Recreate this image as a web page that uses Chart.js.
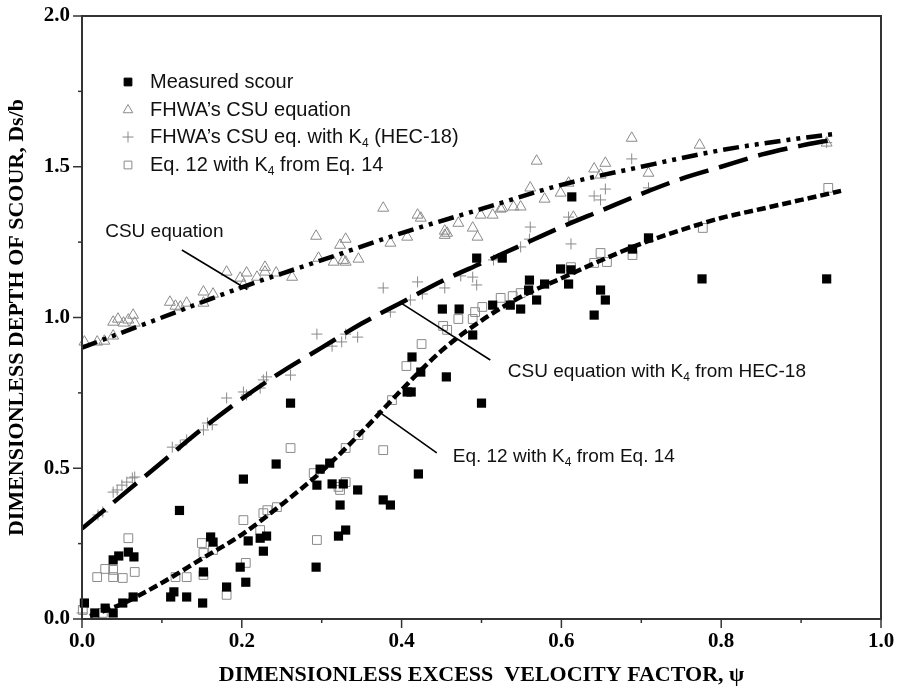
<!DOCTYPE html>
<html>
<head>
<meta charset="utf-8">
<script src="https://cdn.jsdelivr.net/npm/chart.js@4.4.1/dist/chart.umd.min.js"></script>
<style>
  html, body { margin: 0; padding: 0; background: #fff; }
  #wrap { width: 902px; height: 692px; }
</style>
</head>
<body>
<div id="wrap"><canvas id="c" width="902" height="692"></canvas></div>
<script>
// Measured dimensionless scour depth vs. excess velocity factor
const measuredScour = [
  [0.003,0.053],[0.016,0.020],[0.029,0.036],[0.039,0.020],[0.039,0.196],[0.046,0.209],
  [0.058,0.222],[0.065,0.206],[0.051,0.053],[0.064,0.073],[0.122,0.360],[0.111,0.073],
  [0.115,0.090],[0.131,0.073],[0.151,0.053],[0.152,0.156],[0.161,0.272],[0.164,0.255],
  [0.181,0.106],[0.198,0.172],[0.202,0.464],[0.205,0.122],[0.208,0.259],[0.223,0.268],
  [0.231,0.275],[0.227,0.225],[0.243,0.514],[0.261,0.716],[0.294,0.444],[0.298,0.497],
  [0.310,0.517],[0.313,0.448],[0.293,0.172],[0.323,0.378],[0.321,0.275],[0.327,0.448],
  [0.345,0.428],[0.330,0.295],[0.377,0.395],[0.386,0.378],[0.421,0.481],[0.413,0.869],
  [0.424,0.819],[0.456,0.803],[0.407,0.753],[0.412,0.753],[0.500,0.716],[0.451,1.028],
  [0.472,1.028],[0.489,0.942],[0.494,1.197],[0.526,1.197],[0.514,1.041],[0.536,1.041],
  [0.549,1.028],[0.560,1.124],[0.559,1.091],[0.569,1.058],[0.599,1.161],[0.612,1.158],
  [0.609,1.111],[0.579,1.111],[0.649,1.091],[0.655,1.058],[0.641,1.008],[0.689,1.227],
  [0.709,1.264],[0.776,1.128],[0.613,1.400],[0.932,1.128]
];

// FHWA's CSU equation predictions
const fhwaCsu = [
  [0.003,0.919],[0.019,0.919],[0.028,0.922],[0.039,0.939],[0.039,0.985],[0.045,0.995],
  [0.052,0.982],[0.058,0.992],[0.064,1.008],[0.066,0.982],[0.110,1.051],[0.117,1.038],
  [0.123,1.035],[0.131,1.048],[0.152,1.085],[0.164,1.078],[0.152,1.048],[0.181,1.151],
  [0.198,1.131],[0.206,1.148],[0.202,1.108],[0.219,1.134],[0.229,1.167],[0.229,1.151],
  [0.243,1.148],[0.263,1.134],[0.293,1.270],[0.296,1.197],[0.315,1.184],[0.323,1.240],
  [0.330,1.260],[0.327,1.190],[0.330,1.184],[0.346,1.194],[0.377,1.363],[0.386,1.247],
  [0.407,1.267],[0.420,1.340],[0.424,1.330],[0.454,1.287],[0.454,1.273],[0.457,1.280],
  [0.471,1.313],[0.489,1.297],[0.495,1.267],[0.499,1.340],[0.514,1.340],[0.526,1.363],
  [0.524,1.360],[0.540,1.367],[0.549,1.367],[0.561,1.430],[0.569,1.519],[0.579,1.393],
  [0.599,1.413],[0.609,1.446],[0.615,1.333],[0.641,1.493],[0.655,1.512],[0.649,1.473],
  [0.688,1.595],[0.709,1.479],[0.773,1.572],[0.932,1.579]
];

// FHWA's CSU equation with K4 (HEC-18)
const fhwaCsuK4 = [
  [0.000,0.020],[0.020,0.345],[0.026,0.355],[0.039,0.421],[0.044,0.428],[0.050,0.444],
  [0.056,0.454],[0.063,0.468],[0.066,0.471],[0.113,0.570],[0.123,0.577],[0.131,0.594],
  [0.152,0.627],[0.157,0.650],[0.163,0.644],[0.181,0.733],[0.202,0.753],[0.206,0.743],
  [0.223,0.766],[0.227,0.793],[0.231,0.803],[0.261,0.809],[0.294,0.945],[0.313,0.905],
  [0.325,0.919],[0.330,0.945],[0.345,0.935],[0.377,1.098],[0.386,1.018],[0.411,1.058],
  [0.420,1.118],[0.426,1.078],[0.454,1.098],[0.474,1.138],[0.489,1.134],[0.494,1.108],
  [0.515,1.191],[0.549,1.234],[0.561,1.300],[0.560,1.260],[0.609,1.333],[0.612,1.244],
  [0.641,1.403],[0.649,1.390],[0.655,1.426],[0.688,1.526],[0.709,1.430],[0.932,1.580]
];

// Eq. 12 with K4 from Eq. 14
const eq12K4 = [
  [0.001,0.030],[0.026,0.020],[0.019,0.139],[0.029,0.166],[0.039,0.139],[0.039,0.163],
  [0.051,0.136],[0.058,0.268],[0.066,0.156],[0.117,0.139],[0.131,0.139],[0.152,0.146],
  [0.150,0.252],[0.152,0.219],[0.164,0.229],[0.181,0.080],[0.202,0.328],[0.205,0.186],
  [0.223,0.295],[0.227,0.351],[0.232,0.361],[0.244,0.371],[0.261,0.567],[0.294,0.262],
  [0.290,0.484],[0.321,0.438],[0.323,0.428],[0.330,0.454],[0.330,0.567],[0.346,0.610],
  [0.377,0.560],[0.388,0.726],[0.406,0.839],[0.425,0.912],[0.452,0.972],[0.457,0.959],
  [0.471,0.995],[0.489,0.995],[0.492,1.018],[0.501,1.035],[0.524,1.065],[0.539,1.071],
  [0.549,1.081],[0.612,1.167],[0.641,1.181],[0.649,1.214],[0.657,1.184],[0.689,1.207],
  [0.777,1.297],[0.934,1.430]
];

// Fitted curves
const csuCurve = [
  [0.00,0.90],[0.10,1.00],[0.20,1.10],[0.30,1.19],[0.40,1.28],[0.50,1.36],
  [0.60,1.44],[0.70,1.50],[0.80,1.555],[0.90,1.595],[0.945,1.61]
];
const csuK4Curve = [
  [0.00,0.30],[0.05,0.41],[0.10,0.52],[0.15,0.63],[0.20,0.73],[0.25,0.82],[0.30,0.90],
  [0.35,0.98],[0.40,1.05],[0.45,1.12],[0.50,1.18],[0.55,1.24],[0.60,1.30],[0.65,1.355],
  [0.70,1.41],[0.75,1.46],[0.80,1.50],[0.85,1.54],[0.90,1.57],[0.94,1.59]
];
const eq12Curve = [
  [0.01,0.01],[0.05,0.05],[0.10,0.12],[0.15,0.20],[0.20,0.28],[0.25,0.38],[0.30,0.49],
  [0.35,0.62],[0.40,0.76],[0.45,0.89],[0.50,0.99],[0.55,1.07],[0.60,1.13],[0.65,1.19],
  [0.70,1.245],[0.75,1.29],[0.80,1.33],[0.85,1.36],[0.90,1.39],[0.95,1.42]
];

const xTickLabels = ['0.0','0.2','0.4','0.6','0.8','1.0'];
const yTickLabels = ['0.0','0.5','1.0','1.5','2.0'];

const legendItems = [
  { text: 'Measured scour', style: 'rect', fill: '#000', stroke: '#000' },
  { text: 'FHWA\u2019s CSU equation', style: 'triangle', fill: 'rgba(0,0,0,0)', stroke: '#8a8a8a' },
  { text: 'FHWA\u2019s CSU eq. with K|4| (HEC-18)', style: 'cross', fill: 'rgba(0,0,0,0)', stroke: '#8a8a8a' },
  { text: 'Eq. 12 with K|4| from Eq. 14', style: 'rect', fill: 'rgba(0,0,0,0)', stroke: '#8a8a8a' }
];

// Callout labels: text anchor and leader line, in data units
const callouts = [
  { text: 'CSU equation', at: [0.029, 1.284], from: [0.125, 1.224], to: [0.207, 1.093] },
  { text: 'CSU equation with K|4| from HEC-18', at: [0.533, 0.819], from: [0.398, 1.050], to: [0.511, 0.859] },
  { text: 'Eq. 12 with K|4| from Eq. 14', at: [0.464, 0.537], from: [0.370, 0.690], to: [0.444, 0.551] }
];

const toXY = arr => arr.map(p => ({ x: p[0], y: p[1] }));
const GRAY = '#8a8a8a';
const SANS = '"Liberation Sans", Arial, sans-serif';
const SERIF = '"Liberation Serif", "Times New Roman", serif';

// Draws text where |..| marks a subscript
function drawSubText(ctx, str, x, y, size) {
  const parts = str.split('|');
  let cx = x;
  parts.forEach((part, i) => {
    const sub = i % 2 === 1;
    ctx.font = (sub ? Math.round(size * 0.62) : size) + 'px ' + SANS;
    ctx.fillText(part, cx, sub ? y + size * 0.32 : y);
    cx += ctx.measureText(part).width;
  });
}

const decorPlugin = {
  id: 'decor',
  afterDraw(chart) {
    const { ctx, chartArea: a, scales } = chart;
    const xs = scales.x, ys = scales.y;
    ctx.save();
    // frame
    ctx.strokeStyle = '#333';
    ctx.lineWidth = 2;
    ctx.strokeRect(a.left, a.top, a.right - a.left, a.bottom - a.top);
    // x ticks
    ctx.lineWidth = 1.5;
    for (let i = 0; i <= 10; i++) {
      const px = xs.getPixelForValue(i / 10);
      const len = i % 2 === 0 ? 9 : 4;
      ctx.beginPath();
      ctx.moveTo(px, a.bottom);
      ctx.lineTo(px, a.bottom + len);
      ctx.stroke();
    }
    // y ticks
    for (let i = 0; i <= 8; i++) {
      const py = ys.getPixelForValue(i / 4);
      const len = i % 2 === 0 ? 9 : 4;
      ctx.beginPath();
      ctx.moveTo(a.left, py);
      ctx.lineTo(a.left - len, py);
      ctx.stroke();
    }
    // legend
    const lx = 128, ltx = 150, rows = [82, 110, 137, 165];
    legendItems.forEach((it, i) => {
      ctx.fillStyle = it.fill;
      ctx.strokeStyle = it.stroke;
      ctx.lineWidth = 1;
      Chart.helpers.drawPoint(ctx, { pointStyle: it.style, radius: 5.5, rotation: 0, borderWidth: 1 }, lx, rows[i]);
      ctx.fillStyle = '#111';
      ctx.textBaseline = 'middle';
      ctx.textAlign = 'left';
      drawSubText(ctx, it.text, ltx, rows[i], 20);
    });
    // callouts
    callouts.forEach(c => {
      ctx.strokeStyle = '#000';
      ctx.lineWidth = 1.6;
      ctx.beginPath();
      ctx.moveTo(xs.getPixelForValue(c.from[0]), ys.getPixelForValue(c.from[1]));
      ctx.lineTo(xs.getPixelForValue(c.to[0]), ys.getPixelForValue(c.to[1]));
      ctx.stroke();
      ctx.fillStyle = '#111';
      ctx.textBaseline = 'middle';
      ctx.textAlign = 'left';
      drawSubText(ctx, c.text, xs.getPixelForValue(c.at[0]), ys.getPixelForValue(c.at[1]), 19);
    });
    ctx.restore();
  }
};

const scatterBase = { type: 'scatter', showLine: false, clip: false, pointHoverRadius: 0 };
const lineBase = {
  type: 'line', fill: false, pointRadius: 0, borderColor: '#000', borderWidth: 4.5,
  tension: 0.35, cubicInterpolationMode: 'monotone', order: 0, borderCapStyle: 'butt'
};

new Chart(document.getElementById('c'), {
  data: {
    datasets: [
      Object.assign({}, scatterBase, {
        label: 'Eq. 12 with K4 from Eq. 14', data: toXY(eq12K4), order: 4,
        pointStyle: 'rect', pointRadius: 6.2, borderColor: GRAY, backgroundColor: 'rgba(0,0,0,0)', borderWidth: 1
      }),
      Object.assign({}, scatterBase, {
        label: 'FHWA\u2019s CSU eq. with K4 (HEC-18)', data: toXY(fhwaCsuK4), order: 3,
        pointStyle: 'cross', pointRadius: 5.5, borderColor: GRAY, borderWidth: 1
      }),
      Object.assign({}, scatterBase, {
        label: 'FHWA\u2019s CSU equation', data: toXY(fhwaCsu), order: 2,
        pointStyle: 'triangle', pointRadius: 6.3, borderColor: GRAY, backgroundColor: 'rgba(0,0,0,0)', borderWidth: 1
      }),
      Object.assign({}, scatterBase, {
        label: 'Measured scour', data: toXY(measuredScour), order: 1,
        pointStyle: 'rect', pointRadius: 6.5, borderColor: '#000', backgroundColor: '#000', borderWidth: 0
      }),
      Object.assign({}, lineBase, { label: 'CSU equation', data: toXY(csuCurve), borderDash: [16, 6, 4, 6, 4, 6] }),
      Object.assign({}, lineBase, { label: 'CSU equation with K4 from HEC-18', data: toXY(csuK4Curve), borderDash: [30, 11] }),
      Object.assign({}, lineBase, { label: 'Eq. 12 with K4 from Eq. 14', data: toXY(eq12Curve), borderDash: [9, 4] })
    ]
  },
  options: {
    responsive: false,
    animation: false,
    events: [],
    layout: { padding: { top: 16, right: 21, left: 0, bottom: 0 } },
    plugins: { legend: { display: false }, tooltip: { enabled: false } },
    scales: {
      x: {
        type: 'linear', min: 0, max: 1,
        grid: { display: false, drawTicks: false },
        border: { display: true, color: '#333', width: 2 },
        ticks: {
          stepSize: 0.1, autoSkip: false, maxRotation: 0, padding: 10, color: '#000',
          font: { family: SERIF, size: 21, weight: 'bold' },
          callback: v => { const k = Math.round(v * 10); return k % 2 === 0 ? xTickLabels[k / 2] : ''; }
        },
        title: {
          display: true, text: 'DIMENSIONLESS EXCESS  VELOCITY FACTOR, \u03C8', color: '#000',
          font: { family: SERIF, size: 22, weight: 'bold' }, padding: { top: 0, bottom: 3 }
        },
        afterFit: s => { s.height = 73; s.paddingLeft = 0; s.paddingRight = 0; }
      },
      y: {
        type: 'linear', min: 0, max: 2,
        grid: { display: false, drawTicks: false },
        border: { display: true, color: '#333', width: 2 },
        ticks: {
          stepSize: 0.25, autoSkip: false, padding: 12, color: '#000',
          font: { family: SERIF, size: 21, weight: 'bold' },
          callback: v => { const k = Math.round(v * 4); return k % 2 === 0 ? yTickLabels[k / 2] : ''; }
        },
        title: {
          display: true, text: 'DIMENSIONLESS DEPTH OF SCOUR, Ds/b', color: '#000',
          font: { family: SERIF, size: 22, weight: 'bold' }, padding: { top: 4, bottom: 0 }
        },
        afterFit: s => { s.width = 82; s.paddingTop = 0; s.paddingBottom = 0; }
      }
    }
  },
  plugins: [decorPlugin]
});
</script>
</body>
</html>
